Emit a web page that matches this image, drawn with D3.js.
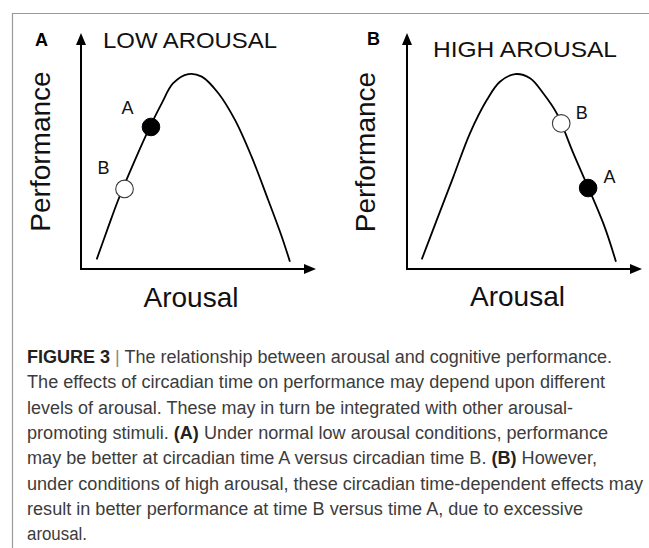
<!DOCTYPE html>
<html><head><meta charset="utf-8">
<script src="https://cdn.jsdelivr.net/npm/d3@7"></script>
<style>body{margin:0;background:#fff}svg{display:block}</style>
</head><body>
<script>
// ---- data ----
const arousalA = [6.7, 11.7, 15.9, 23.1, 29.5, 34.5, 39.4, 45.9, 51.6, 58.7, 65.8, 72.9, 80.0, 85.8, 89.3];
const performanceA = [4.1, 18.1, 29.5, 46.6, 60.8, 70.8, 79.4, 83.3, 82.2, 75.1, 63.7, 48.0, 29.5, 13.8, 3.1];
const arousalB = [6.3, 12.7, 19.8, 26.9, 34.1, 39.7, 46.2, 52.6, 58.2, 64.0, 71.1, 83.9, 89.3];
const performanceB = [4.1, 20.9, 39.4, 58.0, 72.2, 80.0, 83.3, 81.5, 75.1, 66.5, 49.4, 19.5, 3.1];
const timeLabels = ["A", "B"];
const timeFilled = [true, false];
const timeArousalA = [29.9, 18.6];
const timePerfA = [60.7, 34.2];
const timeArousalB = [77.4, 65.9];
const timePerfB = [34.6, 62.2];
const panelLetters = ["A", "B"];
const panelTitles = ["LOW AROUSAL", "HIGH AROUSAL"];
const xTitle = "Arousal";
const yTitle = "Performance";
const captionLines = [
  [["FIGURE 3", "b"], [" | ", "p"], ["The relationship between arousal and cognitive performance.", "n"]],
  [["The effects of circadian time on performance may depend upon different", "n"]],
  [["levels of arousal. These may in turn be integrated with other arousal-", "n"]],
  [["promoting stimuli. ", "n"], ["(A)", "b"], [" Under normal low arousal conditions, performance", "n"]],
  [["may be better at circadian time A versus circadian time B. ", "n"], ["(B)", "b"], [" However,", "n"]],
  [["under conditions of high arousal, these circadian time-dependent effects may", "n"]],
  [["result in better performance at time B versus time A, due to excessive", "n"]],
  [["arousal.", "n"]]
];

// ---- layout ----
const W = 649, H = 548;
const svg = d3.select("body").append("svg").attr("width", W).attr("height", H);
const font = "'Liberation Sans', Arial, Helvetica, sans-serif";

// frame
svg.append("path").attr("d", `M12.5,${H} V13.5 H${W}`)
  .attr("fill", "none").attr("stroke", "#9a9a9a").attr("stroke-width", 1.2);

const panels = [
  {x0: 81, ax: arousalA, pf: performanceA, tx: timeArousalA, tp: timePerfA,
   letter: {x: 35, y: 46}, title: {x: 103, y: 48, len: 174}, ytl: {x: 50, y: 151.5}, xtl: {x: 191, y: 307},
   lab: [{dx: -23.5, dy: -13}, {dx: -21, dy: -15}]},
  {x0: 407, ax: arousalB, pf: performanceB, tx: timeArousalB, tp: timePerfB,
   letter: {x: 367, y: 45}, title: {x: 433, y: 57, len: 184}, ytl: {x: 375, y: 152}, xtl: {x: 517.5, y: 306},
   lab: [{dx: 21.5, dy: -5}, {dx: 20.5, dy: -4}]}
];
const y0 = 269, size = 234;

panels.forEach((p, i) => {
  const x = d3.scaleLinear().domain([0, 100]).range([p.x0, p.x0 + size]);
  const y = d3.scaleLinear().domain([0, 100]).range([y0, y0 - size]);
  const g = svg.append("g");

  // axes with arrowheads
  const yTop = y(100) - 2, xEnd = x(100);
  g.append("path").attr("d", `M${x(0)},${y(0)} V${yTop + 10}`).attr("stroke", "#000").attr("stroke-width", 2).attr("fill", "none");
  g.append("path").attr("d", `M${x(0) - 1},${y(0)} H${xEnd - 10}`).attr("stroke", "#000").attr("stroke-width", 2).attr("fill", "none");
  g.append("path").attr("d", `M${x(0)},${yTop} L${x(0) - 5},${yTop + 12} L${x(0) + 5},${yTop + 12} Z`).attr("fill", "#000");
  g.append("path").attr("d", `M${xEnd + 1},${y(0)} L${xEnd - 11},${y(0) - 5} L${xEnd - 11},${y(0) + 5} Z`).attr("fill", "#000");

  // curve
  const pts = p.ax.map((a, k) => [a, p.pf[k]]);
  const line = d3.line().x(d => x(d[0])).y(d => y(d[1])).curve(d3.curveCatmullRom.alpha(0.5));
  g.append("path").attr("d", line(pts)).attr("fill", "none").attr("stroke", "#000").attr("stroke-width", 1.8);

  // time markers
  timeLabels.forEach((lab, k) => {
    const cx = x(p.tx[k]), cy = y(p.tp[k]);
    g.append("circle").attr("cx", cx).attr("cy", cy).attr("r", 8.8)
      .attr("fill", timeFilled[k] ? "#000" : "#fff")
      .attr("stroke", timeFilled[k] ? "#000" : "#3a3a3a").attr("stroke-width", timeFilled[k] ? 1 : 1.1);
    g.append("text").attr("x", cx + p.lab[k].dx).attr("y", cy + p.lab[k].dy)
      .attr("text-anchor", "middle").attr("font-family", font).attr("font-size", 18).attr("fill", "#111").text(lab);
  });

  // texts
  g.append("text").attr("x", p.letter.x).attr("y", p.letter.y).attr("font-family", font)
    .attr("font-weight", "bold").attr("font-size", 18).attr("fill", "#000").text(panelLetters[i]);
  g.append("text").attr("x", p.title.x).attr("y", p.title.y).attr("font-family", font)
    .attr("font-size", 22).attr("fill", "#111").attr("textLength", p.title.len)
    .attr("lengthAdjust", "spacingAndGlyphs").text(panelTitles[i]);
  g.append("text").attr("transform", `translate(${p.ytl.x},${p.ytl.y}) rotate(-90)`)
    .attr("text-anchor", "middle").attr("font-family", font).attr("font-size", 28).attr("fill", "#111").text(yTitle);
  g.append("text").attr("x", p.xtl.x).attr("y", p.xtl.y).attr("text-anchor", "middle")
    .attr("font-family", font).attr("font-size", 28).attr("fill", "#111").text(xTitle);
});

// caption
const capEnds = [612, 605, 573, 608, 597, 643, 583, 87];
captionLines.forEach((segs, i) => {
  const t = svg.append("text").attr("x", 27).attr("y", 363 + i * 25.3)
    .attr("font-family", font).attr("font-size", 18).attr("fill", "#3c3c3c")
    .attr("textLength", capEnds[i] - 27).attr("lengthAdjust", "spacingAndGlyphs");
  segs.forEach(s => {
    const ts = t.append("tspan").text(s[0]);
    if (s[1] === "b") ts.attr("font-weight", "bold").attr("fill", "#222");
    if (s[1] === "p") ts.attr("fill", "#888");
  });
});
</script>
</body></html>
